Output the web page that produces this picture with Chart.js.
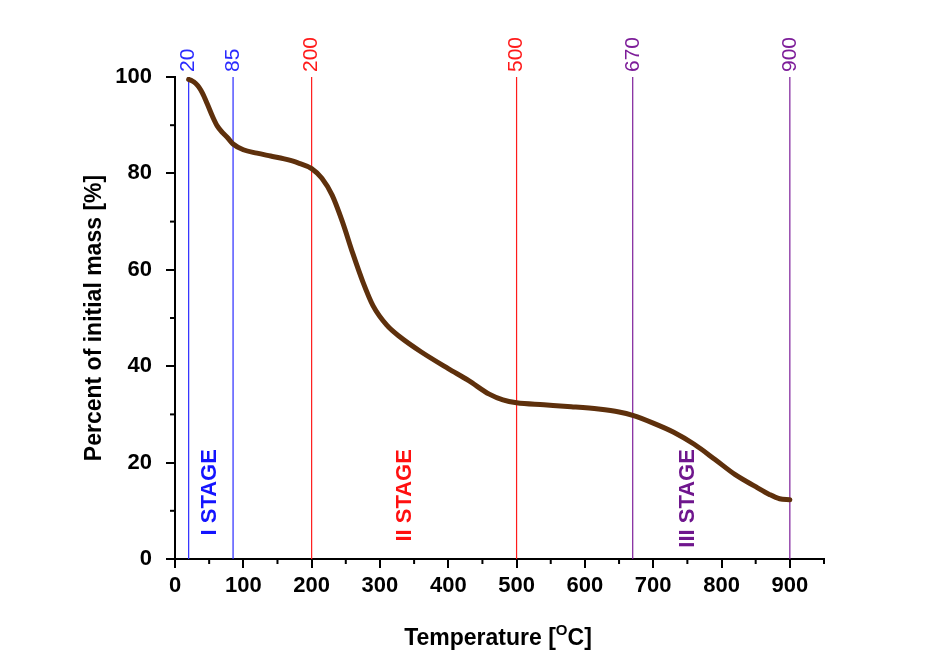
<!DOCTYPE html>
<html>
<head>
<meta charset="utf-8">
<script src="https://cdn.jsdelivr.net/npm/chart.js@4/dist/chart.umd.min.js"></script>
<style>
  html, body { margin: 0; padding: 0; background: #fff; }
  #wrap { width: 941px; height: 660px; }
</style>
</head>
<body>
<div id="wrap"><canvas id="tga" width="941" height="660"></canvas></div>
<script>
// TGA curve
const temps = [20, 25, 30, 35, 40, 47, 55, 62, 70, 77, 85, 100, 120, 140, 160, 180, 200,
  215, 230, 245, 260, 275, 290, 310, 330, 360, 400, 430, 460, 480, 500,
  540, 580, 620, 650, 670, 700, 730, 760, 790, 820, 850, 870, 885, 900];
const mass = [99.5, 99.2, 98.7, 97.9, 96.7, 94.5, 91.8, 89.8, 88.4, 87.4, 86.1, 84.9, 84.2, 83.6, 83.0, 82.2, 81.0,
  79.0, 75.5, 70.0, 63.5, 57.5, 52.5, 48.5, 46.0, 43.0, 39.5, 37.0, 34.2, 33.0, 32.4,
  32.0, 31.6, 31.1, 30.5, 29.8, 28.2, 26.3, 23.8, 20.7, 17.5, 15.0, 13.4, 12.5, 12.3];

// stage boundaries
const markerTemps = [20, 85, 200, 500, 670, 900];
const markerColors = ['#2a2aff', '#2a2aff', '#ff1a1a', '#ff1a1a', '#7d1d99', '#7d1d99'];

// stage labels: x position (temperature), top end (mass)
const stageNames = ['I STAGE', 'II STAGE', 'III STAGE'];
const stageTemps = [51, 337, 751];
const stageTop = [22.8, 22.8, 22.8];
const stageColors = ['#1414ff', '#ff1010', '#6f168d'];

const xTicks = [0, 100, 200, 300, 400, 500, 600, 700, 800, 900];
const yTicks = [0, 20, 40, 60, 80, 100];

const datasets = [{
  data: temps.map((t, i) => ({ x: t, y: mass[i] })),
  borderColor: '#5e300c',
  borderWidth: 5,
  borderCapStyle: 'round',
  pointRadius: 0,
  cubicInterpolationMode: 'monotone',
  showLine: true,
  order: 0
}];
markerTemps.forEach((t, i) => {
  datasets.push({
    data: [{ x: t, y: 0 }, { x: t, y: 100 }],
    borderColor: markerColors[i],
    borderWidth: 1.2,
    pointRadius: 0,
    showLine: true,
    order: 1
  });
});

const annotate = {
  id: 'annotate',
  afterDraw(chart) {
    const ctx = chart.ctx;
    const xs = chart.scales.x, ys = chart.scales.y;

    // minor ticks
    ctx.save();
    ctx.strokeStyle = '#000';
    ctx.lineWidth = 2;
    for (let v = 50; v <= 950; v += 100) {
      const px = xs.getPixelForValue(v);
      ctx.beginPath(); ctx.moveTo(px, ys.bottom); ctx.lineTo(px, ys.bottom + 5); ctx.stroke();
    }
    for (let v = 10; v <= 90; v += 20) {
      const py = ys.getPixelForValue(v);
      ctx.beginPath(); ctx.moveTo(xs.left, py); ctx.lineTo(xs.left - 5, py); ctx.stroke();
    }
    ctx.restore();

    // marker labels above lines
    markerTemps.forEach((t, i) => {
      const px = xs.getPixelForValue(t);
      ctx.save();
      ctx.translate(px, ys.getPixelForValue(100) - 5);
      ctx.rotate(-Math.PI / 2);
      ctx.font = '21px "Liberation Sans", Arial, sans-serif';
      ctx.fillStyle = markerColors[i];
      ctx.textAlign = 'left';
      ctx.textBaseline = 'middle';
      ctx.fillText(String(t), 0, 0);
      ctx.restore();
    });

    // stage labels
    stageNames.forEach((s, i) => {
      ctx.save();
      ctx.translate(xs.getPixelForValue(stageTemps[i]), ys.getPixelForValue(stageTop[i]));
      ctx.rotate(-Math.PI / 2);
      ctx.font = 'bold 22px "Liberation Sans", Arial, sans-serif';
      ctx.fillStyle = stageColors[i];
      ctx.textAlign = 'right';
      ctx.textBaseline = 'middle';
      ctx.fillText(s, 0, 0);
      ctx.restore();
    });

    // axis titles
    ctx.save();
    ctx.fillStyle = '#000';
    ctx.font = 'bold 23px "Liberation Sans", Arial, sans-serif';
    ctx.translate(95, (ys.top + ys.bottom) / 2);
    ctx.rotate(-Math.PI / 2);
    ctx.textAlign = 'center';
    ctx.textBaseline = 'middle';
    ctx.fillText('Percent of initial mass [%]', 0, 0);
    ctx.restore();

    ctx.save();
    ctx.fillStyle = '#000';
    ctx.textBaseline = 'alphabetic';
    const big = 'bold 23px "Liberation Sans", Arial, sans-serif';
    const small = 'bold 15px "Liberation Sans", Arial, sans-serif';
    ctx.font = big;
    const a = 'Temperature [', c = 'C]';
    const wa = ctx.measureText(a).width, wc = ctx.measureText(c).width;
    ctx.font = small;
    const wo = ctx.measureText('O').width;
    let x0 = 498 - (wa + wo + wc) / 2;
    const base = 645;
    ctx.font = big; ctx.fillText(a, x0, base);
    ctx.font = small; ctx.fillText('O', x0 + wa, base - 10);
    ctx.font = big; ctx.fillText(c, x0 + wa + wo, base);
    ctx.restore();
  }
};

new Chart(document.getElementById('tga'), {
  type: 'scatter',
  data: { datasets: datasets },
  options: {
    responsive: false,
    animation: false,
    layout: { padding: { left: 0, top: 77, right: 117, bottom: 0 } },
    plugins: { legend: { display: false }, tooltip: { enabled: false } },
    scales: {
      x: {
        type: 'linear', min: 0, max: 950,
        afterFit: s => { s.height = 101; },
        afterBuildTicks: s => { s.ticks = xTicks.map(v => ({ value: v })); },
        border: { color: '#000', width: 2 },
        grid: { drawOnChartArea: false, color: '#000', lineWidth: 2, tickLength: 9 },
        ticks: { color: '#000', padding: 5, font: { family: '"Liberation Sans", Arial', size: 22, weight: 'bold' }, maxRotation: 0 }
      },
      y: {
        min: 0, max: 100,
        afterFit: s => { s.width = 175; },
        afterBuildTicks: s => { s.ticks = yTicks.map(v => ({ value: v })); },
        border: { color: '#000', width: 2 },
        grid: { drawOnChartArea: false, color: '#000', lineWidth: 2, tickLength: 9 },
        ticks: { color: '#000', padding: 14, font: { family: '"Liberation Sans", Arial', size: 22, weight: 'bold' } }
      }
    }
  },
  plugins: [annotate]
});
</script>
</body>
</html>
